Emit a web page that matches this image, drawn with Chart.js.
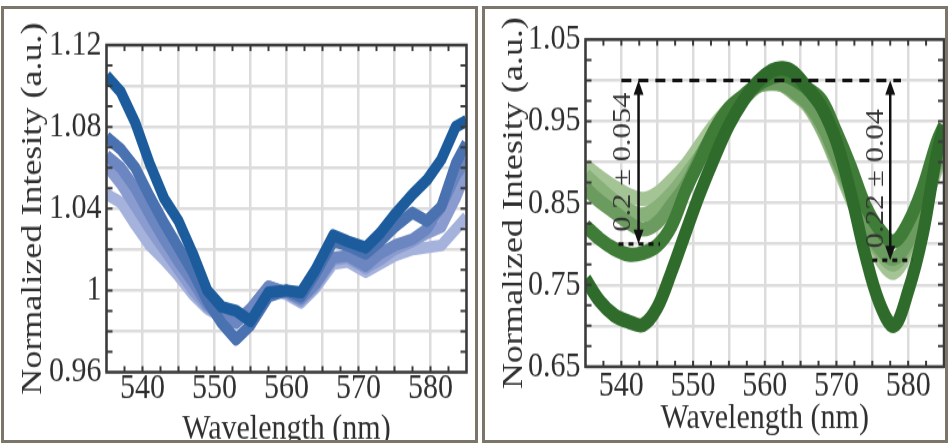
<!DOCTYPE html>
<html>
<head>
<meta charset="utf-8">
<script src="https://cdn.jsdelivr.net/npm/chart.js@4.4.1/dist/chart.umd.min.js"></script>
<style>
  html, body { margin: 0; padding: 0; background: #fff; }
  body { width: 949px; height: 444px; position: relative; overflow: hidden; font-family: "Liberation Serif", serif; }
  .panel { position: absolute; top: 6px; height: 431px; border: 3px solid #7b756a; background: #fff; }
  #leftPanel { left: 1px; width: 471px; }
  #rightPanel { left: 482px; width: 460px; }
  .panel canvas { display: block; }
</style>
</head>
<body>
<div class="panel" id="leftPanel">
  <canvas id="blueChart" width="471" height="359" style="width:471px;height:431px"></canvas>
</div>
<div class="panel" id="rightPanel">
  <canvas id="greenChart" width="460" height="359" style="width:460px;height:431px"></canvas>
</div>
<script>
const serif = '"Liberation Serif"';
const ink = '#2f2f2f';

// left: reflectance spectra, blue series
const wlBlue = [535, 537, 539, 541, 543, 545, 547, 549, 551, 553, 555, 557.5, 560, 562, 564, 566.5, 568.5, 571, 573, 575, 577.5, 579.5, 581.5, 583.5, 585];
const blue1 = [1.105, 1.097, 1.082, 1.062, 1.045, 1.034, 1.018, 1.000, 0.992, 0.990, 0.985, 0.999, 1.000, 0.999, 1.010, 1.027, 1.024, 1.021, 1.028, 1.037, 1.047, 1.054, 1.064, 1.080, 1.083];
const blue2 = [1.075, 1.069, 1.060, 1.046, 1.033, 1.021, 1.009, 0.995, 0.984, 0.976, 0.983, 0.997, 1.000, 0.997, 1.008, 1.024, 1.022, 1.018, 1.024, 1.031, 1.038, 1.034, 1.041, 1.062, 1.072];
const blue3 = [1.066, 1.060, 1.050, 1.037, 1.025, 1.014, 1.004, 0.993, 0.987, 0.984, 0.991, 1.002, 0.999, 0.996, 1.003, 1.016, 1.017, 1.012, 1.018, 1.022, 1.025, 1.030, 1.041, 1.056, 1.064];
const blue4 = [1.061, 1.052, 1.041, 1.030, 1.020, 1.010, 1.000, 0.992, 0.987, 0.985, 0.991, 1.002, 0.999, 0.995, 1.002, 1.015, 1.016, 1.011, 1.015, 1.020, 1.024, 1.028, 1.031, 1.045, 1.058];
const blue5 = [1.047, 1.043, 1.032, 1.022, 1.015, 1.007, 0.998, 0.991, 0.987, 0.985, 0.990, 1.001, 0.998, 0.994, 1.001, 1.013, 1.014, 1.009, 1.013, 1.017, 1.020, 1.021, 1.022, 1.030, 1.036];

// right: green series with two dips
const wlGreen = [535, 537, 539, 541, 543, 545, 547, 549, 551, 553, 555, 557, 559, 561, 562.5, 564, 566, 568, 570, 572, 574, 576, 578, 580, 582, 584, 585];
const green1 = [0.757, 0.730, 0.713, 0.705, 0.701, 0.722, 0.766, 0.815, 0.863, 0.906, 0.945, 0.975, 0.998, 1.012, 1.015, 1.010, 0.990, 0.966, 0.925, 0.862, 0.787, 0.728, 0.700, 0.742, 0.810, 0.910, 0.945];
const green2 = [0.822, 0.806, 0.794, 0.787, 0.789, 0.798, 0.822, 0.866, 0.903, 0.940, 0.966, 0.981, 0.995, 1.004, 1.007, 1.002, 0.990, 0.975, 0.937, 0.895, 0.848, 0.818, 0.803, 0.826, 0.868, 0.925, 0.945];
const green3 = [0.868, 0.852, 0.839, 0.826, 0.818, 0.826, 0.848, 0.872, 0.907, 0.937, 0.958, 0.977, 0.993, 0.997, 0.995, 0.987, 0.972, 0.945, 0.905, 0.865, 0.823, 0.795, 0.782, 0.803, 0.848, 0.900, 0.920];
const green4 = [0.884, 0.868, 0.853, 0.842, 0.836, 0.845, 0.862, 0.884, 0.908, 0.931, 0.956, 0.976, 0.993, 0.996, 0.994, 0.985, 0.970, 0.940, 0.900, 0.860, 0.820, 0.790, 0.775, 0.797, 0.845, 0.895, 0.915];
const green5 = [0.896, 0.882, 0.870, 0.860, 0.855, 0.862, 0.878, 0.897, 0.922, 0.946, 0.966, 0.981, 0.995, 0.997, 0.994, 0.984, 0.968, 0.938, 0.897, 0.855, 0.815, 0.782, 0.765, 0.792, 0.840, 0.890, 0.912];

// dip depth markers (value space)
const refLevel = 1.0;
const dipDepth = [0.2, 0.22];
const dipError = [0.054, 0.04];
const dipWl = [542.4, 577.5];
const refSpan = [540, 579];
const dipSpan = [[539.6, 545.4], [575, 580.6]];
const labelWl = [540.3, 575.6];
const labelLevel = [0.9, 0.88];

const bluePalette = ['#1d5c9c', '#4a71b0', '#6c86c1', '#8a9ccf', '#a5b2dc'];
const greenPalette = ['#2f6b2a', '#3f7c37', '#6c9b5f', '#88b079', '#a5c496'];

// plot box with inward minor ticks on all four sides
const frame = {
  id: 'frame',
  afterDatasetsDraw(chart, args, opts) {
    const { ctx, chartArea: a, scales: { x, y } } = chart;
    ctx.save();
    ctx.strokeStyle = '#3a3a3a';
    ctx.lineWidth = 2;
    ctx.beginPath();
    const nx = Math.round((x.max - x.min) / opts.xMinor);
    for (let i = 1; i < nx; i++) {
      const px = x.getPixelForValue(x.min + i * opts.xMinor);
      ctx.moveTo(px, a.top); ctx.lineTo(px, a.top + 5);
      ctx.moveTo(px, a.bottom); ctx.lineTo(px, a.bottom - 5);
    }
    const ny = Math.round((y.max - y.min) / opts.yMinor);
    for (let i = 1; i < ny; i++) {
      const py = y.getPixelForValue(y.min + i * opts.yMinor);
      ctx.moveTo(a.left, py); ctx.lineTo(a.left + 6, py);
      ctx.moveTo(a.right, py); ctx.lineTo(a.right - 6, py);
    }
    ctx.stroke();
    ctx.lineWidth = 2.5;
    ctx.strokeRect(a.left, a.top, a.right - a.left, a.bottom - a.top);
    ctx.restore();
  }
};

const dipMarks = {
  id: 'dipMarks',
  afterDatasetsDraw(chart) {
    const { ctx, scales: { x, y } } = chart;
    const top = y.getPixelForValue(refLevel);
    ctx.save();
    ctx.strokeStyle = '#111';
    ctx.fillStyle = '#111';
    ctx.lineWidth = 3;
    ctx.setLineDash([10, 7]);
    ctx.beginPath();
    ctx.moveTo(x.getPixelForValue(refSpan[0]), top);
    ctx.lineTo(x.getPixelForValue(refSpan[1]), top);
    ctx.stroke();
    dipDepth.forEach((d, i) => {
      const bottom = y.getPixelForValue(refLevel - d);
      ctx.setLineDash([5, 5]);
      ctx.lineWidth = 3;
      ctx.beginPath();
      ctx.moveTo(x.getPixelForValue(dipSpan[i][0]), bottom);
      ctx.lineTo(x.getPixelForValue(dipSpan[i][1]), bottom);
      ctx.stroke();

      // double-headed arrow between reference and dip level
      const ax = x.getPixelForValue(dipWl[i]);
      const head = 12, half = 5;
      ctx.setLineDash([]);
      ctx.lineWidth = 2.5;
      ctx.beginPath();
      ctx.moveTo(ax, top + head - 2);
      ctx.lineTo(ax, bottom - head + 2);
      ctx.stroke();
      ctx.beginPath();
      ctx.moveTo(ax, top); ctx.lineTo(ax - half, top + head); ctx.lineTo(ax + half, top + head);
      ctx.closePath();
      ctx.moveTo(ax, bottom); ctx.lineTo(ax - half, bottom - head); ctx.lineTo(ax + half, bottom - head);
      ctx.closePath();
      ctx.fill();

      ctx.save();
      ctx.translate(x.getPixelForValue(labelWl[i]), y.getPixelForValue(labelLevel[i]));
      ctx.rotate(-Math.PI / 2);
      ctx.font = '25.5px ' + serif;
      ctx.fillStyle = '#333';
      ctx.textAlign = 'center';
      ctx.textBaseline = 'middle';
      ctx.fillText(d + ' \u00b1 ' + dipError[i], 0, 0);
      ctx.restore();
    });
    ctx.restore();
  }
};

function spectrumChart(id, wl, series, palette, lw, tension, o) {
  const tickFont = { family: serif, size: 30 };
  return new Chart(document.getElementById(id), {
    type: 'line',
    data: {
      datasets: series.map((s, i) => ({
        data: s.map((v, k) => ({ x: wl[k], y: v })),
        borderColor: palette[i],
        borderWidth: lw,
        borderJoinStyle: 'round',
        pointRadius: 0,
        tension: tension,
        clip: 0
      }))
    },
    options: {
      responsive: false,
      devicePixelRatio: 1,
      animation: false,
      events: [],
      layout: { padding: { top: o.padTop, right: o.padRight, left: 0, bottom: 0 } },
      plugins: {
        legend: { display: false },
        tooltip: { enabled: false },
        frame: { xMinor: 2.5, yMinor: o.yStep / 2 }
      },
      scales: {
        x: {
          type: 'linear', min: 535, max: 585,
          afterFit: s => { s.height = o.xAxisH; },
          grid: { color: '#dcdcdc', lineWidth: 2.5, drawTicks: false },
          border: { display: false },
          ticks: {
            stepSize: 5, autoSkip: false, maxRotation: 0, padding: o.xTickPad,
            color: ink, font: tickFont,
            callback: v => (Math.round(v) % 10 === 0 ? String(v) : '')
          },
          title: {
            display: true, text: 'Wavelength (nm)', color: ink, font: tickFont,
            padding: { top: 0, bottom: o.xTitlePad }
          }
        },
        y: {
          min: o.yMin, max: o.yMax,
          afterFit: s => { s.width = o.yAxisW; },
          grid: { color: '#dcdcdc', lineWidth: 2.5, drawTicks: false },
          border: { display: false },
          ticks: {
            stepSize: o.yStep, autoSkip: false, padding: 5,
            color: ink, font: tickFont,
            callback: o.yLabel
          },
          title: {
            display: true, text: 'Normalized Intesity (a.u.)', color: ink, font: tickFont,
            padding: { top: 11, bottom: 0 }
          }
        }
      }
    },
    plugins: o.plugins
  });
}

function drawAll() {
  spectrumChart('blueChart', wlBlue, [blue1, blue2, blue3, blue4, blue5], bluePalette, 10, 0, {
    padTop: 30, padRight: 8.5, xAxisH: 56.5, yAxisW: 102.5, xTickPad: -4.5, xTitlePad: -9,
    yMin: 0.96, yMax: 1.12, yStep: 0.02,
    yLabel: v => (Math.round(v * 100) % 4 === 0 ? String(parseFloat(v.toFixed(2))) : ''),
    plugins: [frame]
  });

  spectrumChart('greenChart', wlGreen, [green1, green2, green3, green4, green5], greenPalette, 12, 0.35, {
    padTop: 25.4, padRight: 1, xAxisH: 61.1, yAxisW: 100.5, xTickPad: -1.8, xTitlePad: 0.3,
    yMin: 0.65, yMax: 1.05, yStep: 0.05,
    yLabel: v => (Math.round(v * 100) % 10 === 5 ? v.toFixed(2) : ''),
    plugins: [frame, dipMarks]
  });
}

// make sure the serif face is ready before the canvases are painted
Promise.all([
  document.fonts.load('30px "Liberation Serif"'),
  document.fonts.load('25.5px "Liberation Serif"')
]).then(drawAll, drawAll);
</script>
</body>
</html>
